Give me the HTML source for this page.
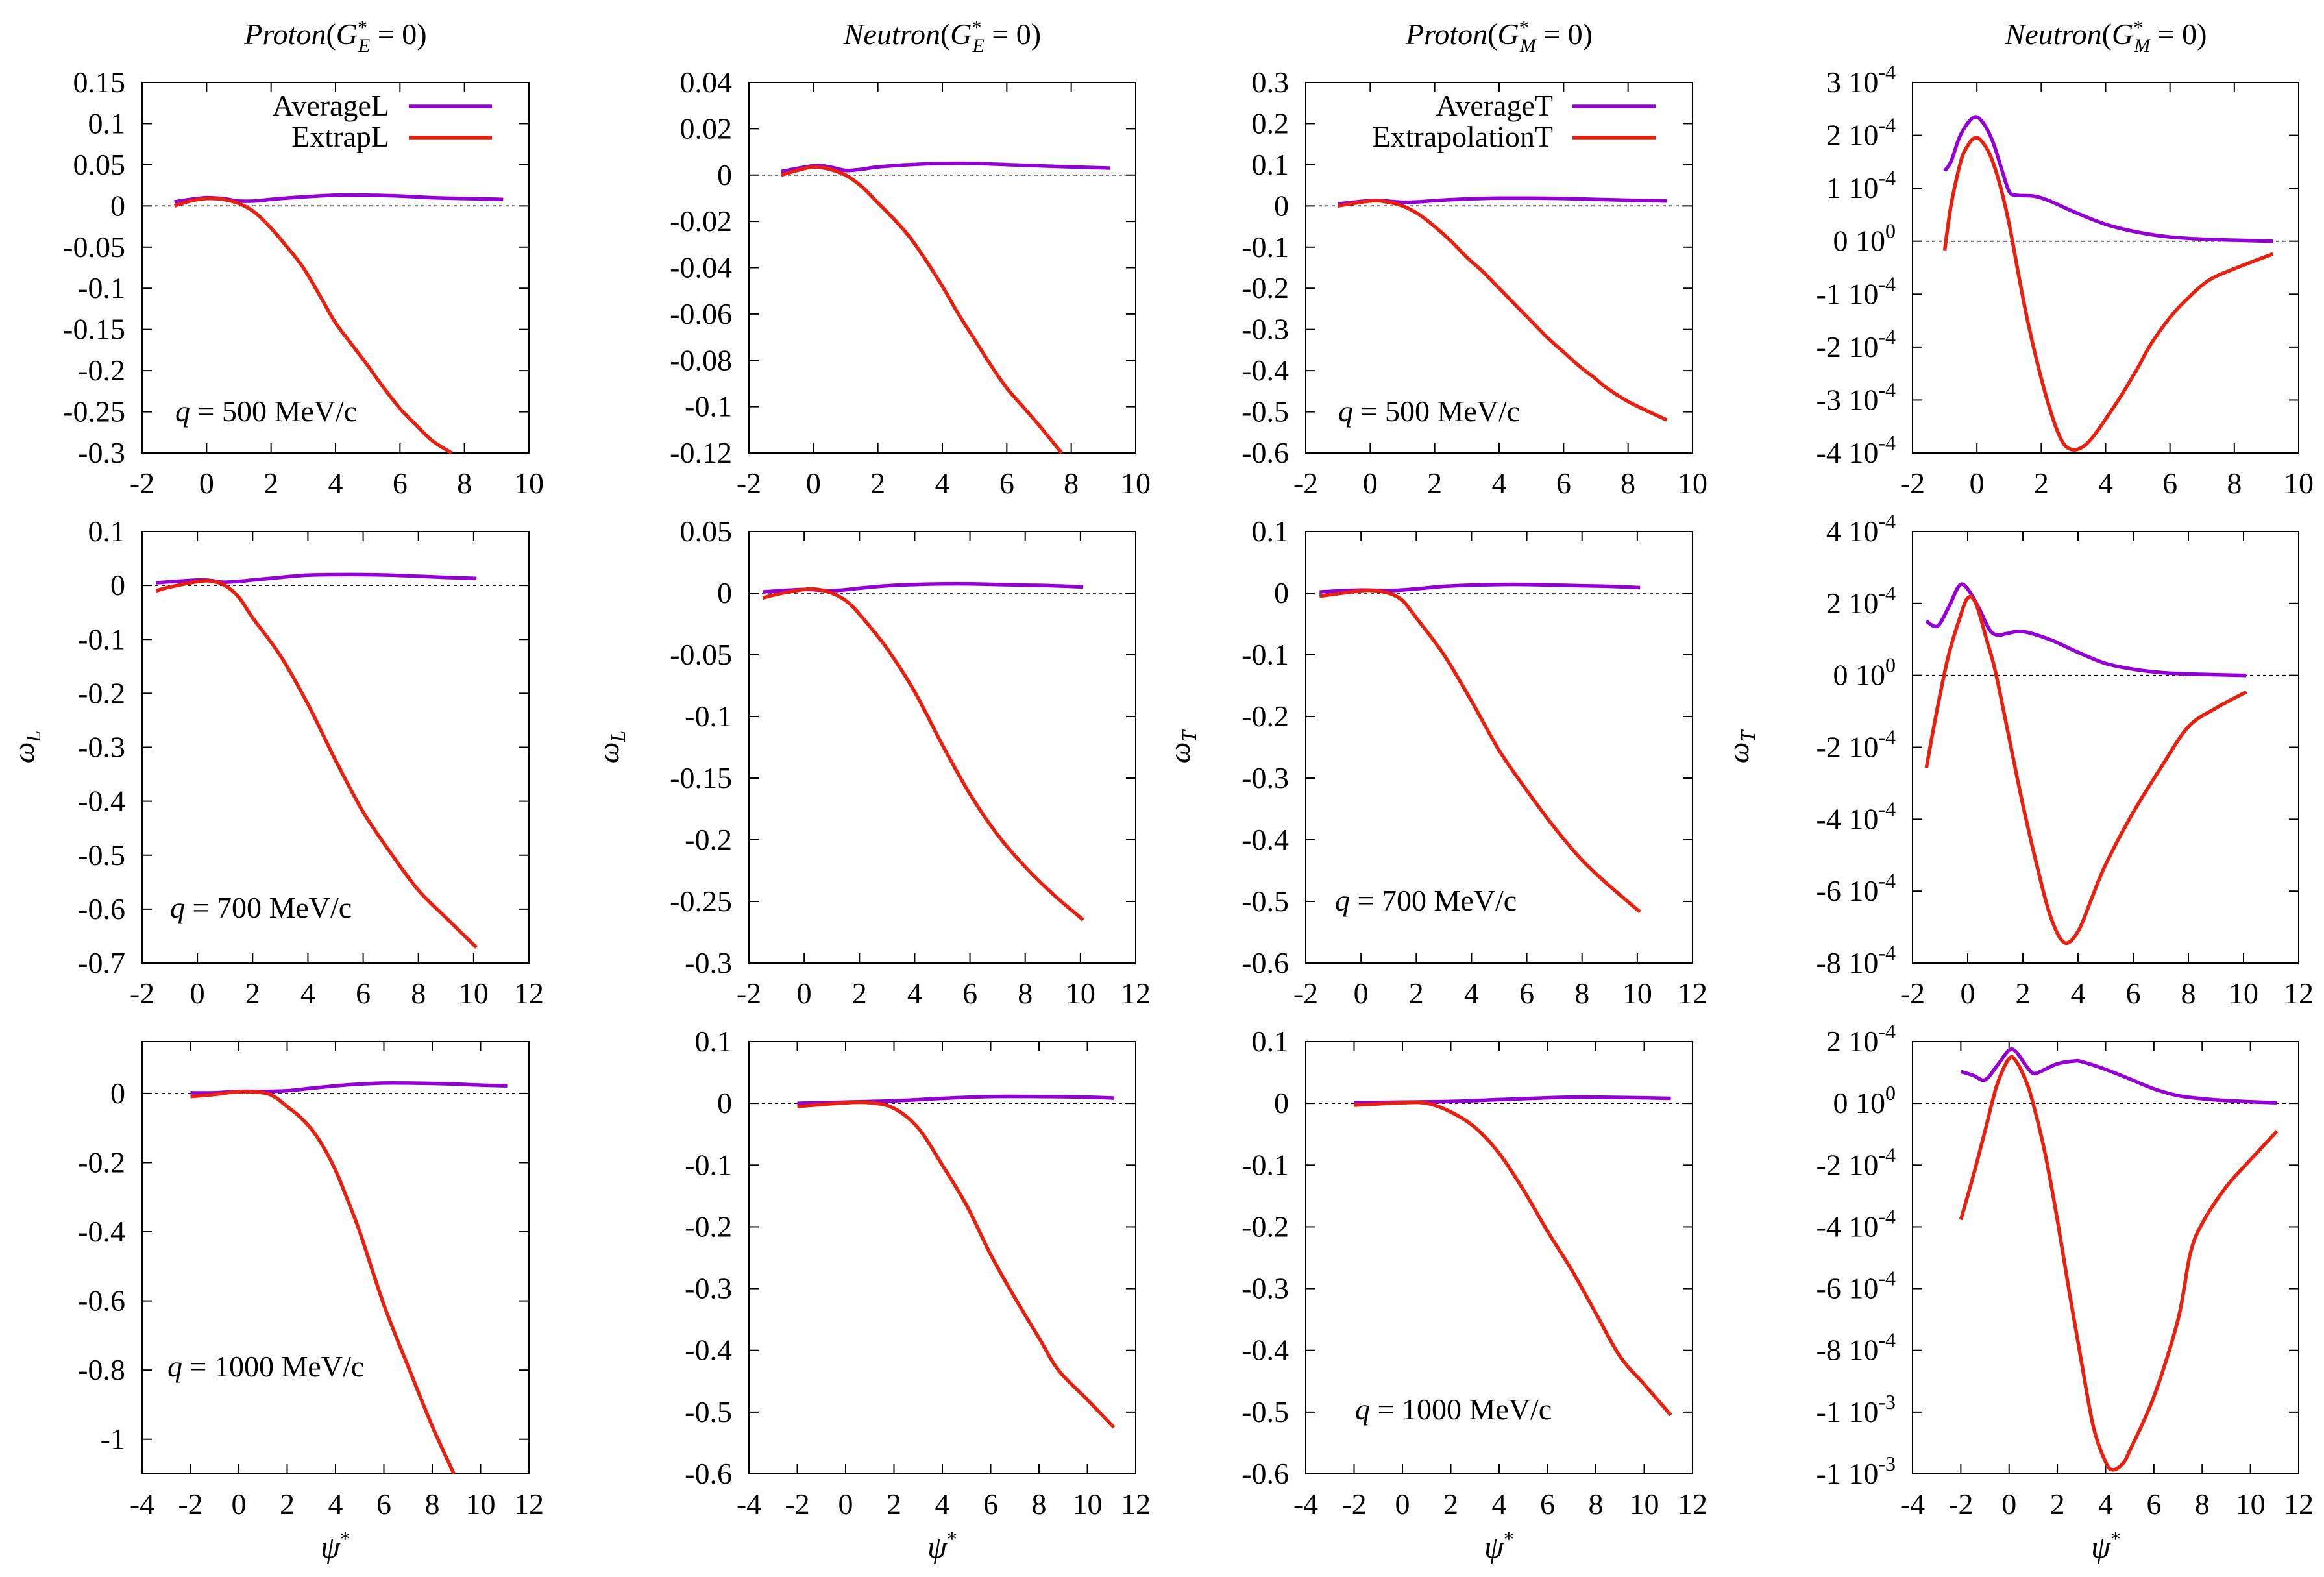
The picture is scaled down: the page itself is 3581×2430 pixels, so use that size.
<!DOCTYPE html>
<html><head><meta charset="utf-8"><style>
html,body{margin:0;padding:0;background:#fff}
svg{display:block}
text{font-family:"Liberation Serif","DejaVu Serif",serif;fill:#000}
</style></head><body>
<svg id="fig" xmlns="http://www.w3.org/2000/svg" width="3581" height="2430" viewBox="0 0 3581 2430" font-family="Liberation Serif, serif"></svg>
<script>
// ---------- DATA (y values for column 4 are in units of 1e-4) ----------
const r1c1AvgX=[-1,-0.5,0,0.5,1,1.5,2,3,4,5,6,7,8,9.2];
const r1c1AvgY=[0.005,0.008,0.01,0.009,0.006,0.006,0.008,0.011,0.013,0.013,0.012,0.010,0.009,0.008];
const r1c1ExtX=[-1,-0.5,0,0.5,1,1.5,2,2.5,3,3.5,4,4.5,5,5.5,6,6.5,7,7.6];
const r1c1ExtY=[0,0.006,0.009,0.008,0.003,-0.008,-0.027,-0.05,-0.075,-0.108,-0.142,-0.168,-0.194,-0.221,-0.246,-0.266,-0.285,-0.3];

const r1c2AvgX=[-1,0,0.5,1,1.5,2,3,4,5,6,7,8,9.2];
const r1c2AvgY=[0.0015,0.004,0.0035,0.002,0.0025,0.0035,0.0045,0.005,0.005,0.0045,0.004,0.0035,0.003];
const r1c2ExtX=[-1,-0.5,0,0.5,1,1.5,2,2.5,3,3.5,4,4.5,5,5.5,6,6.5,7,7.7];
const r1c2ExtY=[0,0.002,0.0035,0.0025,0,-0.005,-0.012,-0.019,-0.027,-0.037,-0.048,-0.06,-0.071,-0.082,-0.092,-0.1,-0.108,-0.12];

const r1c3AvgX=[-1,0,0.5,1,1.5,2,3,4,5,6,7,8,9.2];
const r1c3AvgY=[0.005,0.013,0.012,0.009,0.01,0.013,0.017,0.019,0.019,0.018,0.016,0.014,0.012];
const r1c3ExtX=[-1,0,0.5,1,1.5,2,2.5,3,3.5,4,4.5,5,5.5,6,6.5,7,7.3,8,9.2];
const r1c3ExtY=[0,0.012,0.01,0,-0.02,-0.05,-0.085,-0.125,-0.16,-0.2,-0.24,-0.28,-0.32,-0.355,-0.39,-0.42,-0.44,-0.475,-0.52];

const r1c4AvgX=[-1,-0.8,-0.5,-0.1,0.2,0.5,0.8,1,1.2,1.8,2.3,3,4,5,6,7,8,9.2];
const r1c4AvgY=[1.33,1.51,2.02,2.34,2.23,1.87,1.3,0.94,0.87,0.85,0.75,0.56,0.32,0.17,0.08,0.04,0.02,0];
const r1c4ExtX=[-1,-0.8,-0.5,-0.3,-0.1,0.1,0.4,0.7,1,1.3,1.6,2,2.4,2.7,3,3.3,3.6,4,4.5,5,5.4,6,6.5,7.2,8,9.2];
const r1c4ExtY=[-0.17,0.69,1.51,1.79,1.94,1.92,1.64,1.1,0.33,-0.65,-1.57,-2.59,-3.42,-3.83,-3.94,-3.88,-3.7,-3.36,-2.9,-2.39,-1.95,-1.44,-1.11,-0.74,-0.52,-0.24];

const r2c1AvgX=[-1.5,0,0.5,1,2,3,4,5,6,7,8,9,10.1];
const r2c1AvgY=[0.005,0.01,0.009,0.006,0.01,0.015,0.019,0.02,0.02,0.019,0.017,0.015,0.013];
const r2c1ExtX=[-1.5,-1,0,0.5,1,1.5,2,3,4,5,6,7,8,9,10.1];
const r2c1ExtY=[-0.01,-0.003,0.007,0.008,0.0,-0.022,-0.06,-0.13,-0.22,-0.324,-0.42,-0.496,-0.565,-0.616,-0.671];

const r2c2AvgX=[-1.5,0,1,2,3,4,5,6,7,8,9,10.1];
const r2c2AvgY=[0.001,0.003,0.002,0.004,0.006,0.007,0.0075,0.0075,0.007,0.0065,0.006,0.005];
const r2c2ExtX=[-1.5,-1,0,0.5,1,1.5,2,3,4,5,6,7,8,9,10.1];
const r2c2ExtY=[-0.004,-0.001,0.003,0.003,0.0,-0.006,-0.017,-0.045,-0.08,-0.123,-0.163,-0.196,-0.222,-0.244,-0.265];

const r2c3AvgX=[-1.5,0,1,2,3,4,5,6,7,8,9,10.1];
const r2c3AvgY=[0.002,0.005,0.004,0.007,0.011,0.013,0.014,0.014,0.013,0.012,0.011,0.009];
const r2c3ExtX=[-1.5,-1,0,0.5,1,1.5,2,3,4,5,6,7,8,9,10.1];
const r2c3ExtY=[-0.005,-0.002,0.004,0.004,0.0,-0.012,-0.04,-0.1,-0.175,-0.255,-0.32,-0.38,-0.433,-0.475,-0.517];

const r2c4AvgX=[-1.5,-1.1,-0.7,-0.3,0,0.4,0.8,1.1,1.4,2,3,4,5,6,7,8,10.1];
const r2c4AvgY=[1.51,1.37,1.88,2.5,2.4,1.88,1.26,1.12,1.16,1.22,0.99,0.64,0.33,0.17,0.08,0.04,0];
const r2c4ExtX=[-1.5,-1.1,-0.7,-0.3,0,0.3,0.7,1,1.5,2,2.5,3,3.5,4,4.5,5,6,7,8,9,10.1];
const r2c4ExtY=[-2.57,-0.91,0.54,1.57,2.15,1.99,0.95,0.12,-1.74,-3.6,-5.26,-6.7,-7.43,-7.12,-6.19,-5.26,-3.81,-2.57,-1.43,-0.91,-0.46];

const r3c1AvgX=[-2,-1,0,1,2,3,4,5,6,7,8,9,10,11.1];
const r3c1AvgY=[0.002,0.002,0.006,0.006,0.008,0.015,0.022,0.027,0.03,0.03,0.029,0.027,0.024,0.022];
const r3c1ExtX=[-2,-1,0,1,1.5,2,2.5,3,3.5,4,4.5,5,6,7,8,8.9];
const r3c1ExtY=[-0.009,-0.003,0.005,0.002,-0.011,-0.038,-0.066,-0.103,-0.155,-0.222,-0.308,-0.4,-0.611,-0.789,-0.962,-1.1];

const r3c2AvgX=[-2,0,2,4,6,8,10,11.1];
const r3c2AvgY=[0,0.002,0.004,0.008,0.011,0.011,0.01,0.0085];
const r3c2ExtX=[-2,-1,0,1,2,3,4,5,6,7,8,8.8,10,11.1];
const r3c2ExtY=[-0.005,-0.002,0.001,0.001,-0.008,-0.04,-0.1,-0.165,-0.245,-0.315,-0.38,-0.432,-0.48,-0.525];

const r3c3AvgX=[-2,0,2,4,6,7,8,10,11.1];
const r3c3AvgY=[0.001,0.002,0.003,0.006,0.009,0.01,0.01,0.009,0.008];
const r3c3ExtX=[-2,0,1,2,3,4,5,6,7,8,9,10,11.1];
const r3c3ExtY=[-0.003,0.001,0,-0.014,-0.039,-0.081,-0.14,-0.207,-0.27,-0.34,-0.41,-0.455,-0.505];

const r3c4AvgX=[-2,-1.5,-1,-0.5,0,0.3,0.7,1,1.3,2,2.7,3,4,5,6,7,8,9,10,11.1];
const r3c4AvgY=[1.03,0.91,0.76,1.22,1.72,1.66,1.22,0.97,1.03,1.28,1.37,1.35,1.1,0.79,0.47,0.25,0.15,0.09,0.05,0.02];
const r3c4ExtX=[-2,-1.5,-1,-0.5,0,0.3,0.7,1,1.5,2,2.5,3,3.5,4,4.3,4.7,5,6,7,7.5,8,9,10,11.1];
const r3c4ExtY=[-3.77,-2.39,-0.9,0.6,1.45,1.35,0.72,-0.02,-1.65,-3.77,-6.13,-8.38,-10.5,-11.62,-11.87,-11.68,-11.25,-9.5,-7.0,-4.89,-3.89,-2.7,-1.83,-0.9];

// tick values / labels
const xTicks10=[-2,0,2,4,6,8,10];
const xTicks12=[-2,0,2,4,6,8,10,12];
const xTicks12b=[-4,-2,0,2,4,6,8,10,12];
const yT_r1c1=[-0.3,-0.25,-0.2,-0.15,-0.1,-0.05,0,0.05,0.1,0.15];
const yL_r1c1=["-0.3","-0.25","-0.2","-0.15","-0.1","-0.05","0","0.05","0.1","0.15"];
const yT_r1c2=[-0.12,-0.1,-0.08,-0.06,-0.04,-0.02,0,0.02,0.04];
const yL_r1c2=["-0.12","-0.1","-0.08","-0.06","-0.04","-0.02","0","0.02","0.04"];
const yT_r1c3=[-0.6,-0.5,-0.4,-0.3,-0.2,-0.1,0,0.1,0.2,0.3];
const yL_r1c3=["-0.6","-0.5","-0.4","-0.3","-0.2","-0.1","0","0.1","0.2","0.3"];
const yT_r1c4=[-4,-3,-2,-1,0,1,2,3];
const yL_r1c4=[["-4","-4"],["-3","-4"],["-2","-4"],["-1","-4"],["0","0"],["1","-4"],["2","-4"],["3","-4"]];
const yT_r2c1=[-0.7,-0.6,-0.5,-0.4,-0.3,-0.2,-0.1,0,0.1];
const yL_r2c1=["-0.7","-0.6","-0.5","-0.4","-0.3","-0.2","-0.1","0","0.1"];
const yT_r2c2=[-0.3,-0.25,-0.2,-0.15,-0.1,-0.05,0,0.05];
const yL_r2c2=["-0.3","-0.25","-0.2","-0.15","-0.1","-0.05","0","0.05"];
const yT_r2c3=[-0.6,-0.5,-0.4,-0.3,-0.2,-0.1,0,0.1];
const yL_r2c3=["-0.6","-0.5","-0.4","-0.3","-0.2","-0.1","0","0.1"];
const yT_r2c4=[-8,-6,-4,-2,0,2,4];
const yL_r2c4=[["-8","-4"],["-6","-4"],["-4","-4"],["-2","-4"],["0","0"],["2","-4"],["4","-4"]];
const yT_r3c1=[-1,-0.8,-0.6,-0.4,-0.2,0];
const yL_r3c1=["-1","-0.8","-0.6","-0.4","-0.2","0"];
const yT_r3c2=[-0.6,-0.5,-0.4,-0.3,-0.2,-0.1,0,0.1];
const yL_r3c2=["-0.6","-0.5","-0.4","-0.3","-0.2","-0.1","0","0.1"];
const yT_r3c4=[-12,-10,-8,-6,-4,-2,0,2];
const yL_r3c4=[["-1","-3"],["-1","-3"],["-8","-4"],["-6","-4"],["-4","-4"],["-2","-4"],["0","0"],["2","-4"]];

// ---------- LAYOUT ----------
const COLS=[[219,815],[1154,1750],[2012,2608],[2947,3542]];
const ROWS=[[127,698],[819,1484],[1605,2271]];
const panels=[
 {r:0,c:0,xd:[-2,10],yd:[-0.3,0.15],xt:xTicks10,yt:yT_r1c1,yl:yL_r1c1,ax:r1c1AvgX,ay:r1c1AvgY,ex:r1c1ExtX,ey:r1c1ExtY},
 {r:0,c:1,xd:[-2,10],yd:[-0.12,0.04],xt:xTicks10,yt:yT_r1c2,yl:yL_r1c2,ax:r1c2AvgX,ay:r1c2AvgY,ex:r1c2ExtX,ey:r1c2ExtY},
 {r:0,c:2,xd:[-2,10],yd:[-0.6,0.3],xt:xTicks10,yt:yT_r1c3,yl:yL_r1c3,ax:r1c3AvgX,ay:r1c3AvgY,ex:r1c3ExtX,ey:r1c3ExtY},
 {r:0,c:3,xd:[-2,10],yd:[-4,3],xt:xTicks10,yt:yT_r1c4,yl:yL_r1c4,ax:r1c4AvgX,ay:r1c4AvgY,ex:r1c4ExtX,ey:r1c4ExtY},
 {r:1,c:0,xd:[-2,12],yd:[-0.7,0.1],xt:xTicks12,yt:yT_r2c1,yl:yL_r2c1,ax:r2c1AvgX,ay:r2c1AvgY,ex:r2c1ExtX,ey:r2c1ExtY},
 {r:1,c:1,xd:[-2,12],yd:[-0.3,0.05],xt:xTicks12,yt:yT_r2c2,yl:yL_r2c2,ax:r2c2AvgX,ay:r2c2AvgY,ex:r2c2ExtX,ey:r2c2ExtY},
 {r:1,c:2,xd:[-2,12],yd:[-0.6,0.1],xt:xTicks12,yt:yT_r2c3,yl:yL_r2c3,ax:r2c3AvgX,ay:r2c3AvgY,ex:r2c3ExtX,ey:r2c3ExtY},
 {r:1,c:3,xd:[-2,12],yd:[-8,4],xt:xTicks12,yt:yT_r2c4,yl:yL_r2c4,ax:r2c4AvgX,ay:r2c4AvgY,ex:r2c4ExtX,ey:r2c4ExtY},
 {r:2,c:0,xd:[-4,12],yd:[-1.1,0.15],xt:xTicks12b,yt:yT_r3c1,yl:yL_r3c1,ax:r3c1AvgX,ay:r3c1AvgY,ex:r3c1ExtX,ey:r3c1ExtY},
 {r:2,c:1,xd:[-4,12],yd:[-0.6,0.1],xt:xTicks12b,yt:yT_r3c2,yl:yL_r3c2,ax:r3c2AvgX,ay:r3c2AvgY,ex:r3c2ExtX,ey:r3c2ExtY},
 {r:2,c:2,xd:[-4,12],yd:[-0.6,0.1],xt:xTicks12b,yt:yT_r3c2,yl:yL_r3c2,ax:r3c3AvgX,ay:r3c3AvgY,ex:r3c3ExtX,ey:r3c3ExtY},
 {r:2,c:3,xd:[-4,12],yd:[-12,2],xt:xTicks12b,yt:yT_r3c4,yl:yL_r3c4,ax:r3c4AvgX,ay:r3c4AvgY,ex:r3c4ExtX,ey:r3c4ExtY}
];
const NS="http://www.w3.org/2000/svg";
const svg=document.getElementById('fig');
function mk(tag,attrs,parent){const e=document.createElementNS(NS,tag);for(const k in attrs)e.setAttribute(k,attrs[k]);(parent||svg).appendChild(e);return e;}
function smoothPath(P){
  let d='M'+P[0][0].toFixed(1)+','+P[0][1].toFixed(1);
  for(let i=0;i<P.length-1;i++){
    const p0=P[Math.max(0,i-1)],p1=P[i],p2=P[i+1],p3=P[Math.min(P.length-1,i+2)];
    const c1=[p1[0]+(p2[0]-p0[0])/6,p1[1]+(p2[1]-p0[1])/6];
    const c2=[p2[0]-(p3[0]-p1[0])/6,p2[1]-(p3[1]-p1[1])/6];
    d+=' C'+c1[0].toFixed(1)+','+c1[1].toFixed(1)+' '+c2[0].toFixed(1)+','+c2[1].toFixed(1)+' '+p2[0].toFixed(1)+','+p2[1].toFixed(1);
  }
  return d;
}

panels.forEach(p=>{
  const [x0,x1]=COLS[p.c],[y0,y1]=ROWS[p.r];
  const sx=v=>x0+(v-p.xd[0])/(p.xd[1]-p.xd[0])*(x1-x0);
  const sy=v=>y1-(v-p.yd[0])/(p.yd[1]-p.yd[0])*(y1-y0);
  const g=mk('g',{});
  
  
  const z=mk('line',{x1:x0,x2:x1,y1:sy(0),y2:sy(0),stroke:'#000','stroke-width':1.6,'stroke-dasharray':'5,5'},g);
  
  
  p.xt.forEach(t=>{
    const X=sx(t);
    mk('line',{x1:X,x2:X,y1:y1,y2:y1-15,stroke:'#000','stroke-width':2},g);
    mk('line',{x1:X,x2:X,y1:y0,y2:y0+15,stroke:'#000','stroke-width':2},g);
    const tx=mk('text',{x:X,y:y1+62,'text-anchor':'middle','font-size':46,'font-family':'Liberation Serif, serif'},g);
    tx.textContent=t;
    
    
  });
  p.yt.forEach((t,i)=>{
    const Y=sy(t);
    mk('line',{x1:x0,x2:x0+15,y1:Y,y2:Y,stroke:'#000','stroke-width':2},g);
    mk('line',{x1:x1,x2:x1-15,y1:Y,y2:Y,stroke:'#000','stroke-width':2},g);
    const lab=p.yl[i];
    const tx=mk('text',{x:x0-26,y:Y+15,'text-anchor':'end','font-size':46,'font-family':'Liberation Serif, serif'},g);
    
    
    if(Array.isArray(lab)){
      const a=mk('tspan',{},tx);a.textContent=lab[0]+' 10';
      const b=mk('tspan',{dy:-20,'font-size':32},tx);b.textContent=lab[1];
    } else tx.textContent=lab;
  });
  const fr=mk('rect',{x:x0,y:y0,width:x1-x0,height:y1-y0,fill:'none',stroke:'#000','stroke-width':2},g);
  
  
  const clip=mk('clipPath',{id:'cp'+p.r+p.c},g);
  mk('rect',{x:x0,y:y0-3,width:x1-x0,height:y1-y0+6},clip);
  const pts=(xs,ys)=>xs.map((x,i)=>[sx(x),sy(ys[i])]);
  const la=mk('path',{d:smoothPath(pts(p.ax,p.ay)),fill:'none',stroke:'#9400d3','stroke-width':5.5,'stroke-linejoin':'round','clip-path':'url(#cp'+p.r+p.c+')'},g);
  
  
  const le=mk('path',{d:smoothPath(pts(p.ex,p.ey)),fill:'none',stroke:'#e8200f','stroke-width':5.5,'stroke-linejoin':'round','clip-path':'url(#cp'+p.r+p.c+')'},g);
  
  
});
</script>
<svg style="position:absolute;left:0;top:0" width="3581" height="2430" xmlns="http://www.w3.org/2000/svg">
<g font-family="Liberation Serif, serif" font-size="46">
<text x="517" y="68" text-anchor="middle"><tspan font-style="italic">Proton</tspan>(<tspan font-style="italic">G</tspan><tspan font-size="30" dy="-16">*</tspan><tspan font-size="30" dx="-14" dy="28" font-style="italic">E</tspan><tspan dy="-12"> = 0)</tspan></text>
<text x="1452" y="68" text-anchor="middle"><tspan font-style="italic">Neutron</tspan>(<tspan font-style="italic">G</tspan><tspan font-size="30" dy="-16">*</tspan><tspan font-size="30" dx="-14" dy="28" font-style="italic">E</tspan><tspan dy="-12"> = 0)</tspan></text>
<text x="2310" y="68" text-anchor="middle"><tspan font-style="italic">Proton</tspan>(<tspan font-style="italic">G</tspan><tspan font-size="30" dy="-16">*</tspan><tspan font-size="30" dx="-14" dy="28" font-style="italic">M</tspan><tspan dy="-12"> = 0)</tspan></text>
<text x="3245" y="68" text-anchor="middle"><tspan font-style="italic">Neutron</tspan>(<tspan font-style="italic">G</tspan><tspan font-size="30" dy="-16">*</tspan><tspan font-size="30" dx="-14" dy="28" font-style="italic">M</tspan><tspan dy="-12"> = 0)</tspan></text>

<text x="600" y="178" text-anchor="end">AverageL</text>
<line x1="630" x2="758" y1="164" y2="164" stroke="#9400d3" stroke-width="5.5"/>
<text x="600" y="226" text-anchor="end">ExtrapL</text>
<line x1="630" x2="758" y1="212" y2="212" stroke="#e8200f" stroke-width="5.5"/>
<text x="2393" y="178" text-anchor="end">AverageT</text>
<line x1="2423" x2="2551" y1="164" y2="164" stroke="#9400d3" stroke-width="5.5"/>
<text x="2393" y="226" text-anchor="end">ExtrapolationT</text>
<line x1="2423" x2="2551" y1="212" y2="212" stroke="#e8200f" stroke-width="5.5"/>

<text x="270" y="649"><tspan font-style="italic">q</tspan> = 500 MeV/c</text>
<text x="262" y="1414"><tspan font-style="italic">q</tspan> = 700 MeV/c</text>
<text x="258" y="2121"><tspan font-style="italic">q</tspan> = 1000 MeV/c</text>
<text x="2062" y="649"><tspan font-style="italic">q</tspan> = 500 MeV/c</text>
<text x="2057" y="1403"><tspan font-style="italic">q</tspan> = 700 MeV/c</text>
<text x="2088" y="2187"><tspan font-style="italic">q</tspan> = 1000 MeV/c</text>

<text transform="translate(52,1151) rotate(-90)" text-anchor="middle" font-style="italic">ω<tspan font-size="32" dy="10">L</tspan></text>
<text transform="translate(953,1151) rotate(-90)" text-anchor="middle" font-style="italic">ω<tspan font-size="32" dy="10">L</tspan></text>
<text transform="translate(1833,1151) rotate(-90)" text-anchor="middle" font-style="italic">ω<tspan font-size="32" dy="10">T</tspan></text>
<text transform="translate(2694,1151) rotate(-90)" text-anchor="middle" font-style="italic">ω<tspan font-size="32" dy="10">T</tspan></text>

<text x="517" y="2400" text-anchor="middle" font-size="48" font-style="italic">ψ<tspan font-size="32" dy="-18" font-style="normal">*</tspan></text>
<text x="1452" y="2400" text-anchor="middle" font-size="48" font-style="italic">ψ<tspan font-size="32" dy="-18" font-style="normal">*</tspan></text>
<text x="2310" y="2400" text-anchor="middle" font-size="48" font-style="italic">ψ<tspan font-size="32" dy="-18" font-style="normal">*</tspan></text>
<text x="3245" y="2400" text-anchor="middle" font-size="48" font-style="italic">ψ<tspan font-size="32" dy="-18" font-style="normal">*</tspan></text>
</g>
</svg>
</body></html>
